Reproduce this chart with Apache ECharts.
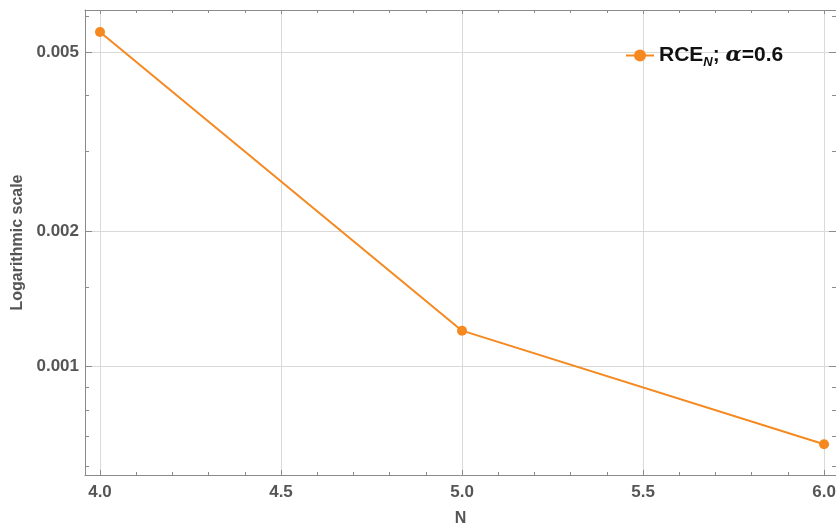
<!DOCTYPE html>
<html>
<head>
<meta charset="utf-8">
<script src="https://cdn.jsdelivr.net/npm/echarts@6/dist/echarts.min.js"></script>
<style>html,body{margin:0;padding:0;background:#fff}#c{width:836px;height:527px}</style>
</head>
<body>
<div id="c"></div>
<script>
// ---- data ----
const nValues = [4, 5, 6];
const rceValues = [0.00554, 0.0012, 0.000671];
const seriesName = 'RCE_N; alpha=0.6';
const xMajorTicks = [4.0, 4.5, 5.0, 5.5, 6.0];
const xMinorTicks = [4.1, 4.2, 4.3, 4.4, 4.6, 4.7, 4.8, 4.9, 5.1, 5.2, 5.3, 5.4, 5.6, 5.7, 5.8, 5.9];
const yMajorTicks = [0.001, 0.002, 0.005];
const yMinorTicks = [0.0006, 0.0007, 0.0008, 0.0009, 0.0015, 0.003, 0.004, 0.006];
const xRange = [3.9586, 6.033];
const yRange = [0.000573, 0.0062];

const FRAME = '#8a8a8a';
const GRIDC = '#d9d9d9';
const ORANGE = '#F5891F';
const LABEL = '#555';

function xAx(pos, ticks, len, showLine, showLabel, showSplit, extra) {
  return Object.assign({
    type: 'value', position: pos, min: xRange[0], max: xRange[1],
    axisLine: {show: showLine, onZero: false, lineStyle: {color: FRAME, width: 1}},
    axisTick: {show: true, inside: true, length: len, customValues: ticks, lineStyle: {color: FRAME}},
    axisLabel: {show: showLabel, customValues: ticks, margin: 9, color: LABEL, fontSize: 17, fontWeight: 'bold',
      fontFamily: 'Liberation Sans, Arial', formatter: v => Number(v).toFixed(1)},
    splitLine: {show: showSplit, lineStyle: {color: GRIDC, width: 1}}
  }, extra || {});
}
function yAx(pos, ticks, len, showLine, showLabel, showSplit, extra) {
  return Object.assign({
    type: 'log', logBase: 10, position: pos, min: yRange[0], max: yRange[1],
    axisLine: {show: showLine, onZero: false, lineStyle: {color: FRAME, width: 1}},
    axisTick: {show: true, inside: true, length: len, customValues: ticks, lineStyle: {color: FRAME}},
    axisLabel: {show: showLabel, customValues: ticks, margin: 6, color: LABEL, fontSize: 17, fontWeight: 'bold',
      fontFamily: 'Liberation Sans, Arial', formatter: v => String(Number(Number(v).toPrecision(3)))},
    splitLine: {show: showSplit, lineStyle: {color: GRIDC, width: 1}},
    minorTick: {show: false}, minorSplitLine: {show: false}
  }, extra || {});
}

const chart = echarts.init(document.getElementById('c'), null, {renderer: 'canvas'});
chart.setOption({
  backgroundColor: '#fff',
  animation: false,
  grid: {left: 85, right: 0, top: 10, bottom: 52, containLabel: false, outerBoundsMode: 'none'},
  xAxis: [
    xAx('bottom', xMajorTicks, 5, true, true, true, {
      name: 'N', nameLocation: 'middle', nameGap: 36,
      nameTextStyle: {color: LABEL, fontSize: 16, fontWeight: 'bold', fontFamily: 'Liberation Sans, Arial'}
    }),
    xAx('bottom', xMinorTicks, 3, false, false, false),
    xAx('top', xMajorTicks, 4, true, false, false),
    xAx('top', xMinorTicks, 3, false, false, false)
  ],
  yAxis: [
    yAx('left', yMajorTicks, 7, true, true, true, {
      name: 'Logarithmic scale', nameLocation: 'middle', nameGap: 58,
      nameTextStyle: {color: LABEL, fontSize: 16, fontWeight: 'bold', fontFamily: 'Liberation Sans, Arial'}
    }),
    yAx('left', yMinorTicks, 4, false, false, false),
    yAx('right', yMajorTicks, 7, false, false, false),
    yAx('right', yMinorTicks, 4, false, false, false)
  ],
  legend: {
    show: true, left: 620, top: 40, itemWidth: 28, itemHeight: 15, itemGap: 8,
    data: [seriesName],
    formatter: () => '{b|RCE}{s|N}{b|; }{i|α}{b|=0.6}',
    textStyle: {
      color: '#111',
      rich: {
        b: {fontSize: 21, fontWeight: 'bold', fontFamily: 'Liberation Sans, Arial', color: '#111', lineHeight: 26},
        s: {fontSize: 13, fontWeight: 'bold', fontStyle: 'italic', fontFamily: 'Liberation Sans, Arial', color: '#111', lineHeight: 13, verticalAlign: 'bottom'},
        i: {fontSize: 21, fontWeight: 'bold', fontStyle: 'italic', fontFamily: 'DejaVu Serif, Liberation Serif', color: '#111', lineHeight: 26}
      }
    }
  },
  series: [{
    name: seriesName, type: 'line', xAxisIndex: 0, yAxisIndex: 0,
    data: nValues.map((n, i) => [n, rceValues[i]]),
    symbol: 'circle', symbolSize: 10, showSymbol: true,
    lineStyle: {color: ORANGE, width: 2}, itemStyle: {color: ORANGE},
    clip: false, z: 5
  }]
});
</script>
</body>
</html>
